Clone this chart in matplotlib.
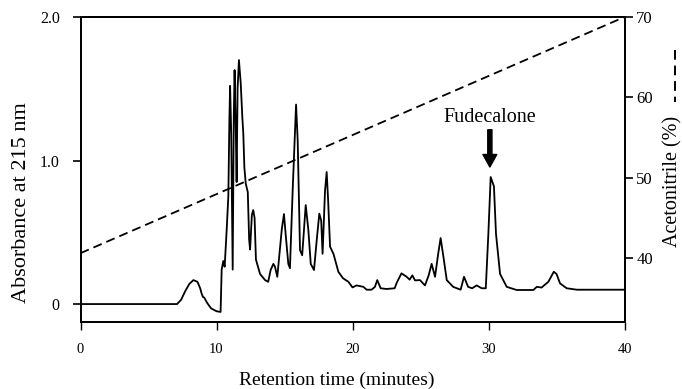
import matplotlib
matplotlib.use("Agg")
import matplotlib.pyplot as plt
from matplotlib.lines import Line2D

plt.rcParams['font.family'] = ['Liberation Serif', 'DejaVu Serif']

# Chromatogram trace: retention time (min) and absorbance at 215 nm
time_min = [0.0, 7.1, 7.4, 7.7, 8.0, 8.3, 8.6, 8.8, 8.9, 9.0, 9.1, 9.3, 9.6, 10.0, 10.3,
            10.38, 10.5, 10.6, 10.75, 10.87, 10.95, 11.0, 11.08, 11.19, 11.27, 11.33,
            11.42, 11.48, 11.55, 11.65, 11.78, 11.9, 11.97, 12.05, 12.15, 12.3, 12.4,
            12.47, 12.6, 12.7, 12.8, 12.9, 13.2, 13.57, 13.8, 13.98, 14.18, 14.3, 14.47,
            14.8, 14.96, 15.1, 15.28, 15.4, 15.6, 15.85, 15.97, 16.14, 16.3, 16.56,
            16.75, 16.93, 17.17, 17.37, 17.56, 17.7, 17.8, 17.98, 18.1, 18.2, 18.35,
            18.6, 18.96, 19.3, 19.7, 20.0, 20.3, 20.8, 21.04, 21.4, 21.65, 21.82, 22.07,
            22.5, 23.1, 23.26, 23.6, 23.98, 24.2, 24.4, 24.6, 24.96, 25.33, 25.6, 25.82,
            26.07, 26.3, 26.48, 26.7, 26.93, 27.4, 27.95, 28.2, 28.5, 28.8, 29.13, 29.5,
            29.8, 29.99, 30.16, 30.4, 30.55, 30.85, 31.34, 32.07, 33.3, 33.55, 33.9,
            34.4, 34.8, 35.0, 35.26, 35.75, 36.5, 40.0]
absorbance = [0.0, 0.0, 0.03, 0.09, 0.14, 0.167, 0.155, 0.11, 0.075, 0.05, 0.045, 0.01, -0.03,
              -0.05, -0.055, 0.24, 0.30, 0.26, 0.52, 0.75, 1.30, 1.52, 1.20, 0.24, 1.30,
              1.63, 1.20, 0.85, 1.50, 1.70, 1.54, 1.30, 1.19, 0.95, 0.84, 0.78, 0.45,
              0.38, 0.62, 0.655, 0.60, 0.31, 0.21, 0.167, 0.155, 0.237, 0.28, 0.26, 0.19,
              0.52, 0.627, 0.47, 0.28, 0.25, 0.79, 1.39, 1.14, 0.376, 0.34, 0.69,
              0.52, 0.28, 0.237, 0.446, 0.63, 0.58, 0.35, 0.79, 0.92, 0.74, 0.40,
              0.35, 0.225, 0.18, 0.155, 0.116, 0.13, 0.12, 0.10, 0.10, 0.12, 0.167, 0.11,
              0.105, 0.11, 0.15, 0.214, 0.19, 0.17, 0.20, 0.165, 0.167, 0.13, 0.20, 0.28,
              0.19, 0.35, 0.46, 0.32, 0.167, 0.12, 0.10, 0.19, 0.12, 0.11, 0.13, 0.11,
              0.11, 0.49, 0.885, 0.82, 0.49, 0.21, 0.12, 0.098, 0.098, 0.12, 0.115,
              0.155, 0.225, 0.21, 0.144, 0.11, 0.10, 0.10]

# Acetonitrile gradient (%)
gradient_time = [0, 40]
gradient_pct = [40.6, 70]

x_ticks = [0, 10, 20, 30, 40]
left_ticks = [0, 1.0, 2.0]
left_tick_labels = ["0", "1.0", "2.0"]
right_ticks = [40, 50, 60, 70]

peak_label = "Fudecalone"
peak_time = 30.1

W, H = 682, 389
fig = plt.figure(figsize=(W / 100, H / 100), dpi=100)
L, R, T, B = 80.5, 624.5, 17, 322
ax = fig.add_axes([L / W, 1 - B / H, (R - L) / W, (B - T) / H])

ax.plot(time_min, absorbance, color='black', lw=1.3)
ax.set_xlim(0, 40)
ax.set_ylim(-0.125, 2.0)
ax.set_xticks(x_ticks)
ax.set_xticklabels([str(v) for v in x_ticks], fontsize=10.5)
ax.set_yticks(left_ticks)
ax.set_yticklabels(left_tick_labels, fontsize=11.5)
ax.tick_params(axis='y', direction='out', length=6, width=1.2, pad=9)
ax.tick_params(axis='x', direction='out', length=6, width=1.0, pad=9)
for s in ax.spines.values():
    s.set_linewidth(1.3)

ax2 = ax.twinx()
ax2.plot(gradient_time, gradient_pct, color='black', lw=1.3, linestyle=(0, (5.0, 2.8)))
ax2.set_ylim(32.03, 70)
ax2.set_yticks(right_ticks)
ax2.set_yticklabels([str(v) for v in right_ticks], fontsize=12)
ax2.tick_params(axis='y', direction='out', length=6, width=1.2, pad=2.5)
for s in ax2.spines.values():
    s.set_linewidth(1.3)

ax.annotate(peak_label, xy=(peak_time, 0.955), xytext=(peak_time, 1.30),
            ha='center', va='center', fontsize=14.5,
            arrowprops=dict(facecolor='black', edgecolor='black', width=3,
                            headwidth=10, headlength=9, shrink=0.0))

fig.text(22 / W, 1 - 203 / H, "Absorbance at 215 nm", rotation=90,
         ha='center', va='center', fontsize=16)
fig.text(673 / W, 1 - 181 / H, "Acetonitrile (%)", rotation=90,
         ha='center', va='center', fontsize=14.5)
fig.text(337 / W, 1 - 380 / H, "Retention time (minutes)",
         ha='center', va='center', fontsize=14)

fig.add_artist(Line2D([675 / W, 675 / W], [1 - 50 / H, 1 - 102 / H],
                      transform=fig.transFigure, color='black', lw=1.4,
                      linestyle=(0, (5, 3))))

fig.savefig("out.png", dpi=100)
